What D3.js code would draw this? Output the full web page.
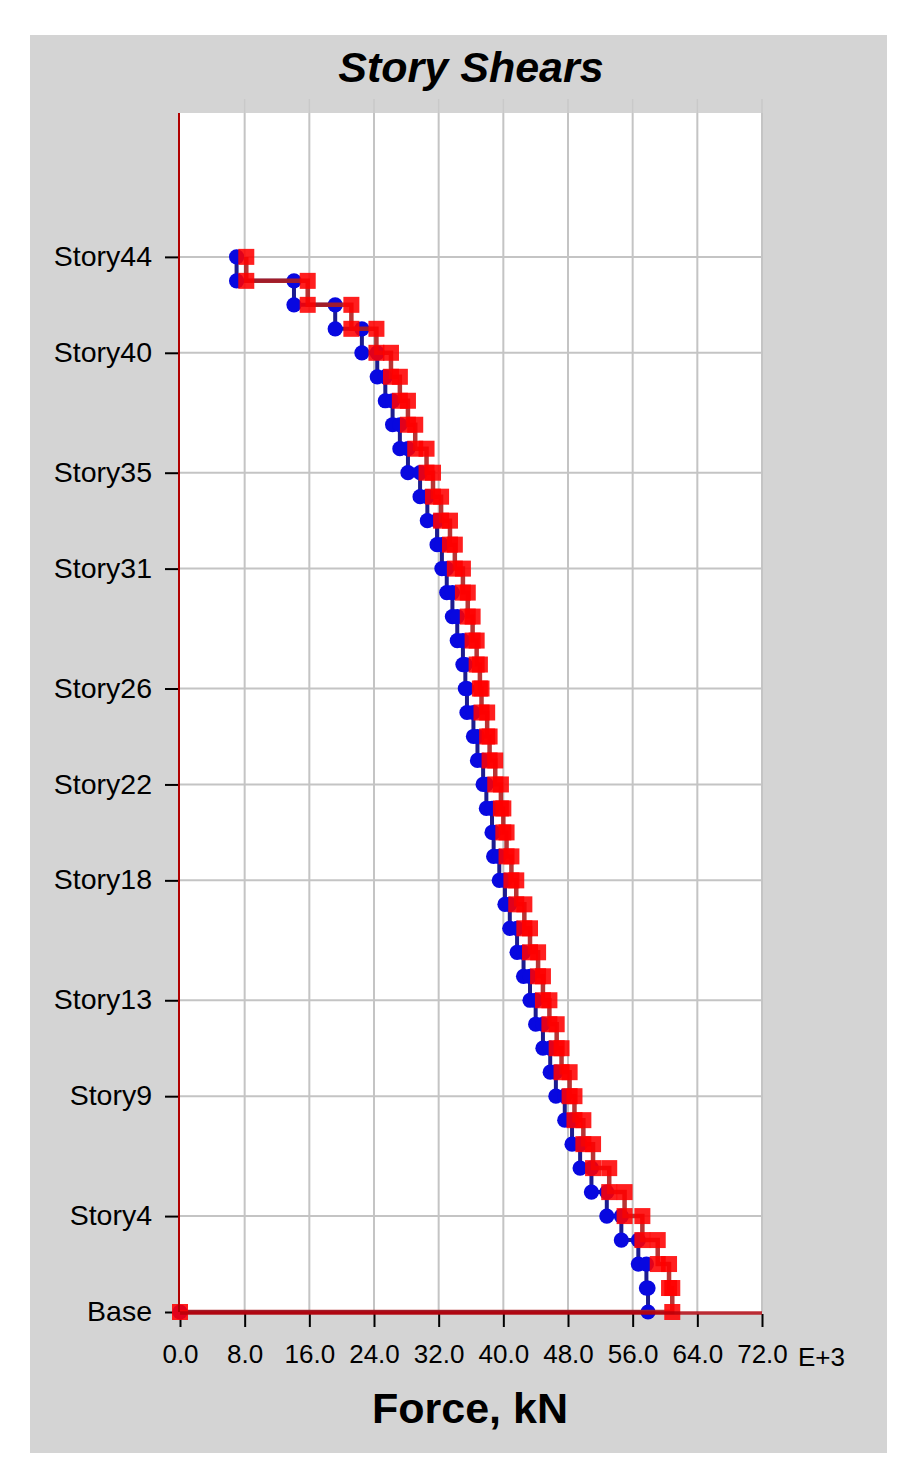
<!DOCTYPE html>
<html>
<head>
<meta charset="utf-8">
<script src="https://cdn.jsdelivr.net/npm/d3@7"></script>
<style>
  html, body { margin: 0; padding: 0; background: #ffffff; }
  svg { display: block; }
  text { font-family: Arial, "Liberation Sans", sans-serif; fill: #000; }
</style>
</head>
<body>
<div id="chart"></div>
<script>
// ---- data (kN x 1000), story 1 .. story 44 ----
const storyLevels = [0, 4, 9, 13, 18, 22, 26, 31, 35, 40, 44];
const storyLabels = ["Base", "Story4", "Story9", "Story13", "Story18", "Story22", "Story26", "Story31", "Story35", "Story40", "Story44"];
const xTicks = [0, 8, 16, 24, 32, 40, 48, 56, 64, 72];
const xTickLabels = ["0.0", "8.0", "16.0", "24.0", "32.0", "40.0", "48.0", "56.0", "64.0", "72.0"];
// shear per story, index 0 = Story1 ... index 43 = Story44
const blueShear = [57.9, 57.7, 56.7, 54.6, 52.8, 50.9, 49.5, 48.5, 47.6, 46.5,
                   45.8, 44.9, 44.0, 43.3, 42.5, 41.7, 40.8, 40.2, 39.5, 38.8,
                   38.6, 37.9, 37.5, 36.8, 36.3, 35.5, 35.3, 35.0, 34.3, 33.7,
                   33.0, 32.4, 31.8, 30.6, 29.7, 28.2, 27.2, 26.3, 25.4, 24.4,
                   22.5, 19.2, 14.1, 7.0];
const redShear  = [60.9, 60.5, 59.1, 57.2, 55.0, 53.1, 51.1, 49.9, 48.8, 48.2,
                   47.2, 46.6, 45.7, 44.9, 44.3, 43.3, 42.6, 41.6, 41.0, 40.4,
                   40.0, 39.7, 39.0, 38.3, 38.0, 37.3, 37.1, 36.7, 36.2, 35.6,
                   35.0, 34.0, 33.4, 32.3, 31.3, 30.5, 29.1, 28.2, 27.2, 26.1,
                   24.3, 21.2, 15.8, 8.2];

const W = 917, H = 1480;
const svg = d3.select("#chart").append("svg").attr("width", W).attr("height", H);

// gray panel
svg.append("rect").attr("x", 30).attr("y", 35).attr("width", 857).attr("height", 1418).attr("fill", "#d4d4d4");

const x = d3.scaleLinear().domain([0, 72]).range([180, 762]);
const y = d3.scaleLinear().domain([0, 50]).range([1312, 113]);

// plot area
svg.append("rect").attr("x", x(0)).attr("y", y(50)).attr("width", x(72) - x(0)).attr("height", y(0) - y(50)).attr("fill", "#ffffff");

// grid
const grid = svg.append("g");
grid.selectAll("line.v").data(xTicks.filter(d => d > 0)).join("line")
  .attr("x1", d => x(d)).attr("x2", d => x(d)).attr("y1", y(50)).attr("y2", y(0))
  .attr("stroke", "#c4c4c4").attr("stroke-width", 2);
grid.selectAll("line.vt").data(xTicks.filter(d => d > 0)).join("line")
  .attr("x1", d => x(d)).attr("x2", d => x(d)).attr("y1", y(50) - 14).attr("y2", y(50))
  .attr("stroke", "#c9c9c9").attr("stroke-width", 1.5);
grid.selectAll("line.h").data(storyLevels.filter(d => d > 0)).join("line")
  .attr("x1", x(0)).attr("x2", x(72)).attr("y1", d => y(d)).attr("y2", d => y(d))
  .attr("stroke", "#c4c4c4").attr("stroke-width", 2);

// title
svg.append("text").attr("x", 471).attr("y", 82).attr("text-anchor", "middle")
  .style("font-size", "43px").style("font-weight", "bold").style("font-style", "italic")
  .text("Story Shears");

// x axis title
svg.append("text").attr("x", 470).attr("y", 1423).attr("text-anchor", "middle")
  .style("font-size", "43px").style("font-weight", "bold")
  .text("Force, kN");

// y axis
const yAxis = d3.axisLeft(y).tickValues(storyLevels).tickFormat((d, i) => storyLabels[i])
  .tickSizeInner(14).tickSizeOuter(0).tickPadding(13);
const gy = svg.append("g").attr("transform", `translate(${x(0) - 1},0)`).call(yAxis);
gy.select(".domain").remove();
gy.selectAll(".tick line").attr("stroke", "#000").attr("stroke-width", 2);
gy.selectAll(".tick text").style("font-size", "28.5px").attr("dy", "0.3em").attr("fill", "#000");

// x axis
const xAxis = d3.axisBottom(x).tickValues(xTicks).tickFormat((d, i) => xTickLabels[i])
  .tickSizeInner(13).tickSizeOuter(0).tickPadding(18);
const gx = svg.append("g").attr("transform", `translate(0,${y(0) + 2})`).call(xAxis);
gx.select(".domain").remove();
gx.selectAll(".tick line").attr("stroke", "#000").attr("stroke-width", 2);
gx.selectAll(".tick text").style("font-size", "26px").attr("fill", "#000");
svg.append("text").attr("x", 798).attr("y", 1366).style("font-size", "26px").text("E+3");

// build step points for a series
function stepPoints(vals) {
  const pts = [];
  for (let i = vals.length - 1; i >= 0; i--) {
    pts.push([vals[i], i + 1]);
    pts.push([vals[i], i]);
  }
  pts.push([0, 0]);
  return pts;
}
const line = d3.line().x(d => x(d[0])).y(d => y(d[1]));

const bluePts = stepPoints(blueShear);
const redPts = stepPoints(redShear);

// blue series
svg.append("path").attr("d", line(bluePts)).attr("fill", "none")
  .attr("stroke", "#1c1c90").attr("stroke-width", 4);
svg.append("g").selectAll("circle").data(bluePts).join("circle")
  .attr("cx", d => x(d[0])).attr("cy", d => y(d[1])).attr("r", 7.6)
  .attr("fill", "#0808e0");

// red series
svg.append("path").attr("d", line(redPts)).attr("fill", "none")
  .attr("stroke", "#b01e1e").attr("stroke-width", 4.5).attr("stroke-opacity", 0.9);
svg.append("g").selectAll("rect").data(redPts).join("rect")
  .attr("x", d => x(d[0]) - 8).attr("y", d => y(d[1]) - 8).attr("width", 16).attr("height", 16)
  .attr("fill", "#ff0000").attr("fill-opacity", 0.88);

// axis lines (red)
svg.append("line").attr("x1", x(0) - 1).attr("x2", x(0) - 1).attr("y1", y(50)).attr("y2", y(0))
  .attr("stroke", "#b00000").attr("stroke-width", 2);
svg.append("line").attr("x1", x(0)).attr("x2", x(72)).attr("y1", y(0) + 1).attr("y2", y(0) + 1)
  .attr("stroke", "#b3000a").attr("stroke-width", 3.5).attr("stroke-opacity", 0.8);
</script>
</body>
</html>
